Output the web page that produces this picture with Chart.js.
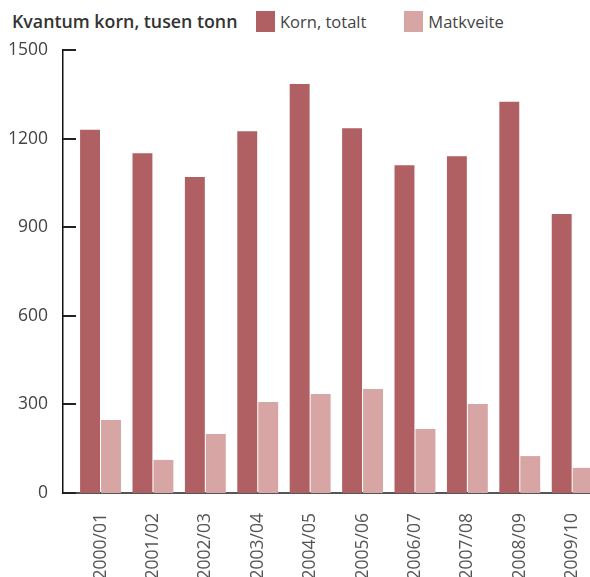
<!DOCTYPE html>
<html>
<head>
<meta charset="utf-8">
<script src="https://cdn.jsdelivr.net/npm/chart.js@4"></script>
<style>
  html, body { margin: 0; padding: 0; background: #fff; overflow: hidden; }
  #wrap { position: relative; width: 590px; height: 577px; font-family: "Open Sans", sans-serif; }
  #title { position: absolute; left: 12px; top: 9px; font-size: 17.8px; font-weight: 600; color: #333; }
  #legend { position: absolute; left: 256px; top: 10px; display: flex; font-size: 16.5px; color: #444; }
  #legend span.item { display: flex; align-items: center; margin-right: 38px; }
  #legend span.box { display: inline-block; width: 19px; height: 21px; margin-right: 5px; }
  canvas { position: absolute; left: 0; top: 0; }
</style>
</head>
<body>
<div id="wrap">
  <div id="title">Kvantum korn, tusen tonn</div>
  <div id="legend"></div>
  <canvas id="chart" width="590" height="577"></canvas>
</div>
<script>
const seasons = ['2000/01', '2001/02', '2002/03', '2003/04', '2004/05', '2005/06', '2006/07', '2007/08', '2008/09', '2009/10'];
const kornTotalt = [1230, 1150, 1070, 1225, 1385, 1235, 1110, 1140, 1325, 945];
const matkveite = [247, 112, 200, 308, 335, 352, 217, 301, 125, 85];
const yTicks = [0, 300, 600, 900, 1200, 1500];

const series = [
    { label: 'Korn, totalt', values: kornTotalt, color: '#b06062' },
    { label: 'Matkveite', values: matkveite, color: '#d7a5a3' }
];

// legend in html so it can sit on the same line as the title
const legendEl = document.getElementById('legend');
series.forEach(s => {
    const item = document.createElement('span');
    item.className = 'item';
    const box = document.createElement('span');
    box.className = 'box';
    box.style.background = s.color;
    item.appendChild(box);
    item.appendChild(document.createTextNode(s.label));
    legendEl.appendChild(item);
});

// short tick marks pointing into the plot from the y axis
const innerTicks = {
    id: 'innerTicks',
    afterDraw(chart) {
        const y = chart.scales.y;
        const c = chart.ctx;
        c.save();
        c.fillStyle = '#222';
        y.ticks.forEach(t => {
            const py = Math.round(y.getPixelForValue(t.value));
            c.fillRect(y.right, py - 1, 13, 2);
        });
        c.restore();
    }
};

const ctx = document.getElementById('chart').getContext('2d');
new Chart(ctx, {
    type: 'bar',
    data: {
        datasets: series.map(s => ({
            label: s.label,
            data: s.values.map((v, i) => ({ x: i, y: v })),
            backgroundColor: s.color,
            borderWidth: 0,
            categoryPercentage: 0.8,
            barPercentage: 0.95
        }))
    },
    plugins: [innerTicks],
    options: {
        responsive: false,
        animation: false,
        layout: { padding: { top: 50, right: 0, left: 0, bottom: 0 } },
        plugins: {
            legend: { display: false },
            tooltip: { enabled: false }
        },
        scales: {
            x: {
                type: 'linear',
                offset: false,
                min: -0.716,
                max: 9.34,
                grid: { display: false },
                border: { display: true, color: '#555', width: 2 },
                afterBuildTicks: s => { s.ticks = seasons.map((_, i) => ({ value: i })); },
                afterFit: s => { s.height = 84; s.paddingLeft = 0; s.paddingRight = 0; },
                ticks: {
                    autoSkip: false,
                    maxRotation: 90,
                    minRotation: 90,
                    padding: 12,
                    color: '#555',
                    font: { family: 'Open Sans', size: 17.5 },
                    callback: v => seasons[v] || ''
                }
            },
            y: {
                min: 0,
                max: 1500,
                afterBuildTicks: s => { s.ticks = yTicks.map(v => ({ value: v })); },
                afterFit: s => { s.width = 63; },
                grid: { display: false },
                border: { display: true, color: '#111', width: 1.5 },
                ticks: {
                    padding: 7,
                    color: '#444',
                    font: { family: 'Open Sans', size: 17.5 },
                    callback: v => String(v)
                }
            }
        }
    }
});
</script>
</body>
</html>
